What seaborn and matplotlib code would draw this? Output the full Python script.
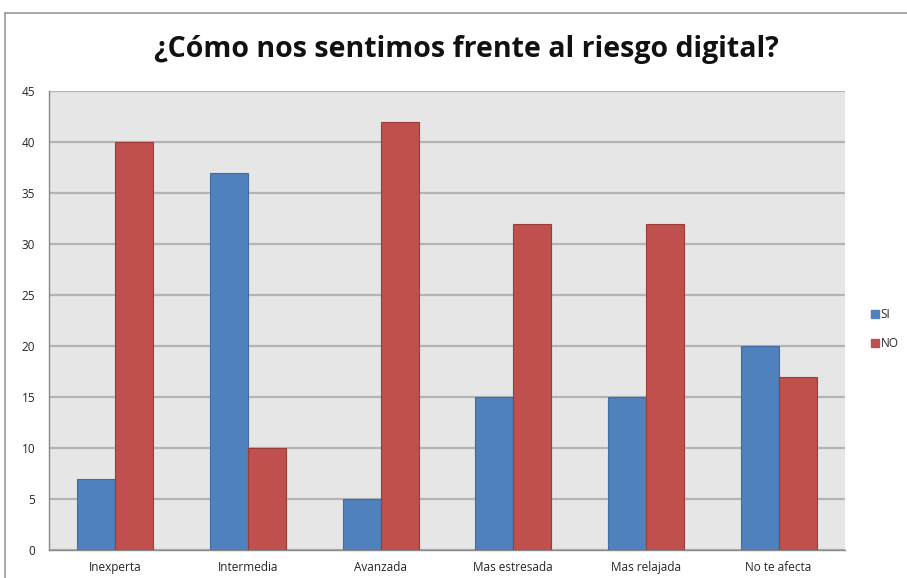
import numpy as np
import pandas as pd
import matplotlib
matplotlib.use("Agg")
from matplotlib import pyplot as plt
from matplotlib.lines import Line2D
import seaborn as sns

categories = ["Inexperta", "Intermedia", "Avanzada", "Mas estresada", "Mas relajada", "No te afecta"]
si_values = [7, 37, 5, 15, 15, 20]
no_values = [40, 10, 42, 32, 32, 17]
series_names = ["SI", "NO"]
y_ticks = [0, 5, 10, 15, 20, 25, 30, 35, 40, 45]

df = pd.DataFrame({
    "cat": categories * 2,
    "value": si_values + no_values,
    "serie": [series_names[0]] * len(categories) + [series_names[1]] * len(categories),
})

sns.set_style("white")
plt.rcParams['font.family'] = ['Open Sans', 'DejaVu Sans']

fig = plt.figure(figsize=(9.07, 5.78), dpi=100)
ax = fig.add_axes([49 / 907, 28 / 578, (845 - 49) / 907, (550 - 91) / 578])

palette = {"SI": "#4F81BD", "NO": "#C0504D"}
sns.barplot(data=df, x="cat", y="value", hue="serie", palette=palette, width=0.575,
            saturation=1, ax=ax, legend=False, zorder=3)
for patch, col in zip(ax.patches, ["#3f6ea6"] * 6 + ["#9c3b38"] * 6):
    patch.set_edgecolor(col)
    patch.set_linewidth(0.8)

ax.set_facecolor("#e6e6e6")
ax.set_xlim(-0.5, len(categories) - 0.5)
ax.set_ylim(0, 45)
ax.set_yticks(y_ticks)
ax.yaxis.grid(True, color="#b4b4b4", linewidth=1.6, zorder=0)
ax.set_axisbelow(True)
ax.set_xlabel("")
ax.set_ylabel("")
ax.tick_params(axis="y", labelsize=8.5, length=4, color="#888888", pad=6)
ax.tick_params(axis="x", labelsize=8.5, length=0, pad=8)
ax.set_xticks(np.arange(-0.5, len(categories), 1.0), minor=True)
ax.tick_params(axis="x", which="minor", length=4, color="#888888")
for s in ["top", "right"]:
    ax.spines[s].set_visible(False)
for s in ["left", "bottom"]:
    ax.spines[s].set_color("#888888")
    ax.spines[s].set_linewidth(1.0)

fig.text(466 / 907, 1 - 50 / 578, "¿Cómo nos sentimos frente al riesgo digital?",
         ha="center", va="center", fontsize=20.5, fontweight="bold", color="#111111")

handles = [Line2D([0], [0], marker="s", linestyle="", markersize=6,
                  markerfacecolor=palette[n], markeredgecolor=palette[n]) for n in series_names]
fig.legend(handles, series_names, loc="center left", bbox_to_anchor=(869 / 907, 1 - 329 / 578),
           frameon=False, fontsize=8.5, handletextpad=0.0, handlelength=1.0,
           borderpad=0, borderaxespad=0, labelspacing=1.4)

# chart outer frame (top and left edges visible)
fig.add_artist(Line2D([5 / 907, 1.0], [1 - 13 / 578, 1 - 13 / 578], transform=fig.transFigure,
                      color="#999999", linewidth=1.2))
fig.add_artist(Line2D([5 / 907, 5 / 907], [0, 1 - 13 / 578], transform=fig.transFigure,
                      color="#999999", linewidth=1.2))

fig.savefig("out.png", dpi=100, facecolor="white")
